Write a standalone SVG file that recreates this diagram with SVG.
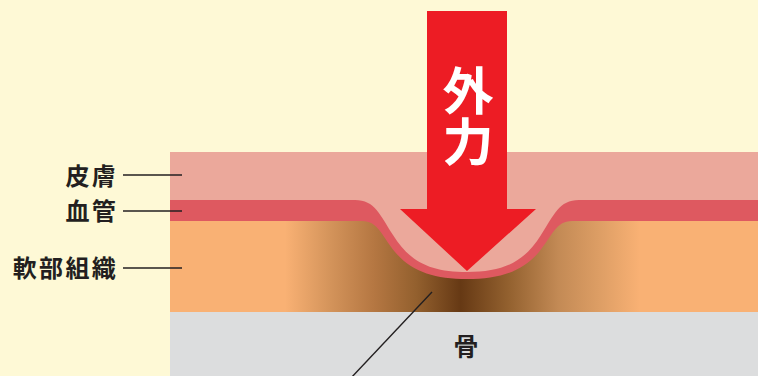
<svg xmlns="http://www.w3.org/2000/svg" width="758" height="376" viewBox="0 0 758 376">
  <defs>
    <linearGradient id="tissueShade" gradientUnits="userSpaceOnUse" x1="285" y1="0" x2="640" y2="0">
      <stop offset="0" stop-color="#F9B174"/>
      <stop offset="0.13" stop-color="#D3935A"/>
      <stop offset="0.25" stop-color="#B57742"/>
      <stop offset="0.37" stop-color="#93602E"/>
      <stop offset="0.495" stop-color="#663914"/>
      <stop offset="0.63" stop-color="#93612F"/>
      <stop offset="0.77" stop-color="#C38A55"/>
      <stop offset="0.88" stop-color="#DC9D64"/>
      <stop offset="1" stop-color="#F9B174"/>
    </linearGradient>
    <style>
      .label { font-family: "Noto Sans CJK JP", "Noto Sans CJK SC", sans-serif; font-weight: 700; fill: #231F20; }
      .side { font-size: 24px; letter-spacing: 2.3px; text-anchor: end; }
      .leader { stroke: #231F20; stroke-width: 1.4; fill: none; }
      .force { font-family: "Noto Sans CJK JP", "Noto Sans CJK SC", sans-serif; font-weight: 700; fill: #FFFFFF; font-size: 51px; writing-mode: vertical-rl; }
    </style>
  </defs>

  <!-- background -->
  <rect x="0" y="0" width="758" height="376" fill="#FEF9D6"/>

  <!-- tissue layers (cross-section) -->
  <g id="skin">
    <rect x="170" y="152" width="588" height="160" fill="#EBA89B"/>
  </g>
  <g id="vessel">
    <path d="M170,200 H355 C375,200 380,215 393,235 C410,262 430,272 467,272 C504,272 524,262 541,235 C554,215 559,200 579,200 H758 V312 H170 Z" fill="#DE5960"/>
  </g>
  <g id="soft-tissue">
    <path d="M170,221 H362 C378,221 382,236 395,252 C412,272 435,279 467,279 C499,279 522,272 539,252 C552,236 556,221 572,221 H758 V312 H170 Z" fill="url(#tissueShade)"/>
  </g>
  <g id="bone">
    <rect x="170" y="312" width="588" height="64" fill="#DCDDDE"/>
    <text class="label" x="466" y="356" font-size="25" text-anchor="middle">骨</text>
  </g>

  <!-- external force arrow -->
  <g id="force-arrow">
    <path d="M427,11 H507 V209 H536 L467,271 L400,209 H427 Z" fill="#ED1C24"/>
    <text class="force" x="468" y="65">外力</text>
  </g>

  <!-- labels -->
  <g id="label-skin">
    <text class="label side" x="118" y="185">皮膚</text>
  </g>
  <g id="label-vessel">
    <text class="label side" x="118" y="220">血管</text>
  </g>
  <g id="label-soft-tissue">
    <text class="label side" x="118" y="277">軟部組織</text>
  </g>

  <!-- leader lines -->
  <g id="connectors">
    <line class="leader" x1="123" y1="175" x2="182" y2="175"/>
    <line class="leader" x1="123" y1="211" x2="182" y2="211"/>
    <line class="leader" x1="123" y1="268" x2="182" y2="268"/>
    <line class="leader" x1="432" y1="292" x2="350" y2="379"/>
  </g>
</svg>
